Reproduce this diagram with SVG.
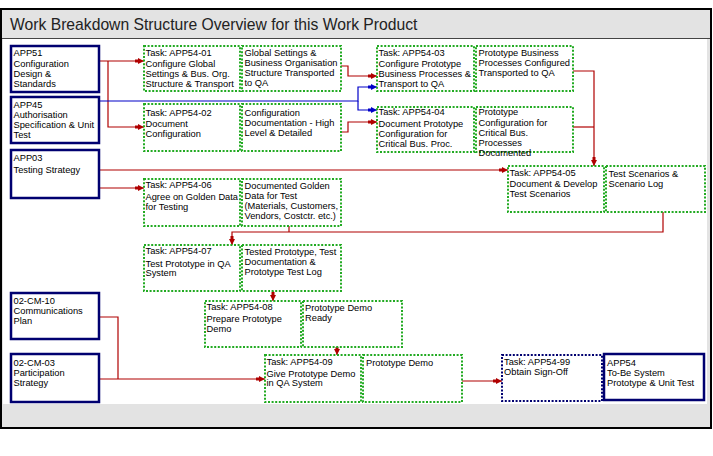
<svg xmlns="http://www.w3.org/2000/svg" width="713" height="456" viewBox="0 0 713 456">
<style>
text{font-family:"Liberation Sans",Arial,sans-serif;font-size:9.3px;fill:#000}
.title{font-size:15.7px;fill:#222}
.src{fill:#fff;stroke:#000070;stroke-width:2.5}
.task{fill:#fff;stroke:#22aa22;stroke-width:2;stroke-dasharray:2,1.6}
.navyd{fill:#fff;stroke:#000070;stroke-width:2;stroke-dasharray:2,1.6}
.r{fill:none;stroke:#b00000;stroke-width:1.2}
.b{fill:none;stroke:#0000c8;stroke-width:1.2}
</style>
<defs>
<marker id="ar" markerUnits="userSpaceOnUse" markerWidth="10" markerHeight="8" refX="9" refY="3" orient="auto"><path d="M0,1.5 H3 V0 L9,3 L3,6 V4.5 H0 Z" fill="#b00000"/></marker>
<marker id="ab" markerUnits="userSpaceOnUse" markerWidth="10" markerHeight="8" refX="9" refY="3" orient="auto"><path d="M0,1.5 H3 V0 L9,3 L3,6 V4.5 H0 Z" fill="#0000c8"/></marker>
</defs>
<rect x="0" y="0" width="713" height="456" fill="#fff"/>
<rect x="1" y="9" width="710" height="419" fill="#e3e3e3" stroke="#000" stroke-width="2"/>
<line x1="2" y1="38.5" x2="710" y2="38.5" stroke="#444" stroke-width="1"/>
<rect x="3" y="39" width="704" height="365" fill="#fff"/>
<text class="title" x="10" y="30">Work Breakdown Structure Overview for this Work Product</text>

<g id="connectors">
<path class="r" d="M99,61 H144" marker-end="url(#ar)"/>
<path class="r" d="M108,61 V127 H144" marker-end="url(#ar)"/>
<path class="b" d="M99,101 H358 V87 H377" marker-end="url(#ab)"/>
<path class="b" d="M358,101 V110 H377" marker-end="url(#ab)"/>
<path class="r" d="M341,66 H348 V76 H377" marker-end="url(#ar)"/>
<path class="r" d="M341,132 H348 V122 H377" marker-end="url(#ar)"/>
<path class="r" d="M573,71 H594 V166" marker-end="url(#ar)"/>
<path class="r" d="M573,127 H594"/>
<path class="r" d="M99,170 H508" marker-end="url(#ar)"/>
<path class="r" d="M99,188 H144" marker-end="url(#ar)"/>
<path class="r" d="M663,212 V232 H232 V245" marker-end="url(#ar)"/>
<path class="r" d="M289,226 V232"/>
<path class="r" d="M273,291 V301" marker-end="url(#ar)"/>
<path class="r" d="M337,347 V355" marker-end="url(#ar)"/>
<path class="r" d="M99,317 H118 V379"/>
<path class="r" d="M99,379 H265" marker-end="url(#ar)"/>
<path class="r" d="M462,381 H502" marker-end="url(#ar)"/>
</g>

<g id="APP51"><rect class="src" x="11" y="46" width="88" height="46"/>
<text x="13.5" y="55.5">APP51</text><text x="13.5" y="66.5">Configuration</text><text x="13.5" y="76.5">Design &amp;</text><text x="13.5" y="86.5">Standards</text></g>
<g id="APP45"><rect class="src" x="11" y="97" width="88" height="46"/>
<text x="13.5" y="107.5">APP45</text><text x="13.5" y="118">Authorisation</text><text x="13.5" y="128">Specification &amp; Unit</text><text x="13.5" y="138">Test</text></g>
<g id="APP03"><rect class="src" x="11" y="150" width="88" height="48"/>
<text x="13.5" y="161">APP03</text><text x="13.5" y="173">Testing Strategy</text></g>
<g id="CM10"><rect class="src" x="11" y="293" width="88" height="46"/>
<text x="13.5" y="304">02-CM-10</text><text x="13.5" y="314.3">Communications</text><text x="13.5" y="324">Plan</text></g>
<g id="CM03"><rect class="src" x="11" y="354" width="88" height="48"/>
<text x="13.5" y="365.5">02-CM-03</text><text x="13.5" y="376">Participation</text><text x="13.5" y="386">Strategy</text></g>

<g id="T01"><rect class="task" x="144" y="46" width="96" height="45"/>
<text x="145.5" y="55.5">Task: APP54-01</text><text x="145.5" y="66.5">Configure Global</text><text x="145.5" y="76.5">Settings &amp; Bus. Org.</text><text x="145.5" y="86.5">Structure &amp; Transport</text></g>
<g id="O01"><rect class="task" x="242" y="46" width="99" height="45"/>
<text x="244.5" y="55.5">Global Settings &amp;</text><text x="244.5" y="65.5">Business Organisation</text><text x="244.5" y="75.5">Structure Transported</text><text x="244.5" y="85.5">to QA</text></g>
<g id="T02"><rect class="task" x="144" y="104" width="96" height="47"/>
<text x="145.5" y="115.5">Task: APP54-02</text><text x="145.5" y="126.5">Document</text><text x="145.5" y="136.5">Configuration</text></g>
<g id="O02"><rect class="task" x="242" y="104" width="99" height="47"/>
<text x="244.5" y="115.5">Configuration</text><text x="244.5" y="125.5">Documentation - High</text><text x="244.5" y="135.5">Level &amp; Detailed</text></g>

<g id="T03"><rect class="task" x="377" y="46" width="97" height="45"/>
<text x="378.5" y="55.5">Task: APP54-03</text><text x="378.5" y="66.5">Configure Prototype</text><text x="378.5" y="76.5">Business Processes &amp;</text><text x="378.5" y="87">Transport to QA</text></g>
<g id="O03"><rect class="task" x="476" y="46" width="97" height="45"/>
<text x="478.5" y="55.5">Prototype Business</text><text x="478.5" y="65.5">Processes Configured</text><text x="478.5" y="75.5">Transported to QA</text></g>
<g id="T04"><rect class="task" x="377" y="107" width="97" height="45"/>
<text x="378.5" y="115">Task: APP54-04</text><text x="378.5" y="126.5">Document Prototype</text><text x="378.5" y="136.5">Configuration for</text><text x="378.5" y="146.5">Critical Bus. Proc.</text></g>
<g id="O04"><rect class="task" x="476" y="107" width="97" height="45"/>
<text x="478.5" y="115">Prototype</text><text x="478.5" y="125.5">Configuration for</text><text x="478.5" y="135.5">Critical Bus.</text><text x="478.5" y="145.5">Processes</text><text x="478.5" y="155.5">Documented</text></g>

<g id="T05"><rect class="task" x="508" y="166" width="96" height="46"/>
<text x="509.5" y="176">Task: APP54-05</text><text x="509.5" y="187">Document &amp; Develop</text><text x="509.5" y="197">Test Scenarios</text></g>
<g id="O05"><rect class="task" x="606" y="166" width="99" height="46"/>
<text x="608.5" y="177">Test Scenarios &amp;</text><text x="608.5" y="187">Scenario Log</text></g>

<g id="T06"><rect class="task" x="144" y="179" width="96" height="47"/>
<text x="145.5" y="188.3">Task: APP54-06</text><text x="145.5" y="200">Agree on Golden Data</text><text x="145.5" y="210">for Testing</text></g>
<g id="O06"><rect class="task" x="242" y="179" width="99" height="47"/>
<text x="244.5" y="189.3">Documented Golden</text><text x="244.5" y="199.3">Data for Test</text><text x="244.5" y="209.3">(Materials, Customers,</text><text x="244.5" y="219.3">Vendors, Costctr. etc.)</text></g>

<g id="T07"><rect class="task" x="144" y="245" width="96" height="46"/>
<text x="145.5" y="253.5">Task: APP54-07</text><text x="145.5" y="266.5">Test Prototype in QA</text><text x="145.5" y="276">System</text></g>
<g id="O07"><rect class="task" x="242" y="245" width="99" height="46"/>
<text x="244.5" y="255">Tested Prototype, Test</text><text x="244.5" y="265.3">Documentation &amp;</text><text x="244.5" y="275.3">Prototype Test Log</text></g>

<g id="T08"><rect class="task" x="205" y="301" width="96" height="46"/>
<text x="206.5" y="310">Task: APP54-08</text><text x="206.5" y="322.3">Prepare Prototype</text><text x="206.5" y="332.3">Demo</text></g>
<g id="O08"><rect class="task" x="303" y="301" width="99" height="46"/>
<text x="305" y="311.3">Prototype Demo</text><text x="305" y="321">Ready</text></g>

<g id="T09"><rect class="task" x="265" y="355" width="96" height="47"/>
<text x="266.5" y="365">Task: APP54-09</text><text x="266.5" y="376.5">Give Prototype Demo</text><text x="266.5" y="386">in QA System</text></g>
<g id="O09"><rect class="task" x="363" y="355" width="99" height="47"/>
<text x="366" y="366">Prototype Demo</text></g>

<g id="T99"><rect class="navyd" x="502" y="355" width="100" height="46"/>
<text x="504" y="365">Task: APP54-99</text><text x="504" y="374.5">Obtain Sign-Off</text></g>
<g id="APP54"><rect class="src" x="604" y="354" width="100" height="46"/>
<text x="607" y="365.5">APP54</text><text x="607" y="376">To-Be System</text><text x="607" y="386">Prototype &amp; Unit Test</text></g>
</svg>
